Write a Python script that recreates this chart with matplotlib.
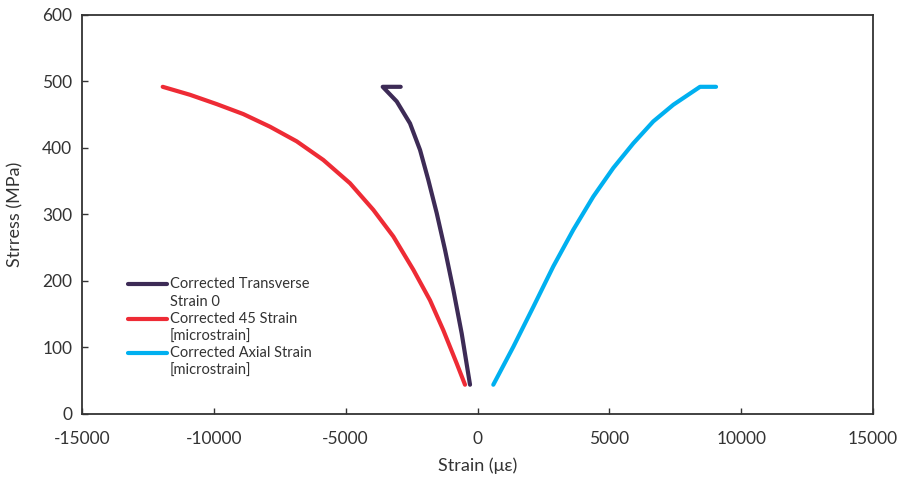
import matplotlib
matplotlib.use('Agg')
import matplotlib.pyplot as plt
from matplotlib.lines import Line2D

plt.rcParams['font.family'] = ['Lato', 'DejaVu Sans']
plt.rcParams['axes.unicode_minus'] = False

# Corrected Transverse Strain 0
transverse_strain = [-284, -599, -918, -1233, -1547, -1866, -2179, -2560, -3064, -3595, -2913]
transverse_stress = [44, 121, 187, 247, 302, 352, 397, 437, 470, 492, 492]

# Corrected 45 Strain [microstrain]
strain_45 = [-474, -789, -1297, -1801, -2435, -3193, -3952, -4836, -5848, -6857, -7870, -8882,
             -9891, -10904, -11939]
stress_45 = [44, 76, 126, 171, 217, 267, 307, 347, 382, 410, 432, 451, 466, 480, 492]

# Corrected Axial Strain [microstrain]
axial_strain = [599, 1358, 2116, 2875, 3633, 4392, 5150, 5909, 6667, 7426, 8439, 9046]
axial_stress = [44, 101, 161, 222, 277, 327, 370, 407, 440, 465, 492, 492]

series_labels = [('Corrected Transverse', 'Strain 0'),
                 ('Corrected 45 Strain', '[microstrain]'),
                 ('Corrected Axial Strain', '[microstrain]')]
series_colors = ['#3D2B56', '#EE2B35', '#00B0F0']

fig = plt.figure(figsize=(9.03, 4.82), dpi=100)
ax = fig.add_axes([0.0908, 0.1411, 0.876, 0.8278])

ax.plot(transverse_strain, transverse_stress, color=series_colors[0], lw=3, solid_capstyle='round')
ax.plot(strain_45, stress_45, color=series_colors[1], lw=3, solid_capstyle='round')
ax.plot(axial_strain, axial_stress, color=series_colors[2], lw=3, solid_capstyle='round')

ax.set_xlim(-15000, 15000)
ax.set_ylim(0, 600)
ax.set_xticks(range(-15000, 15001, 5000))
ax.set_yticks(range(0, 601, 100))
ax.tick_params(direction='in', length=4, width=1, labelsize=12.5, colors='#333333', pad=7)
ax.tick_params(axis='x', pad=12)
for sp in ax.spines.values():
    sp.set_color('#333333')
    sp.set_linewidth(1.3)

ax.set_xlabel('Strain (με)', fontsize=13, color='#333333')
ax.set_ylabel('Strress (MPa)', fontsize=13, color='#333333')
ax.xaxis.set_label_coords(0.5, -0.108)
ax.yaxis.set_label_coords(-0.074, 0.5)

# legend drawn by hand so the line sits next to the first text line (Excel style)
leg_y = [0.326, 0.238, 0.153]
for (line1, line2), color, y in zip(series_labels, series_colors, leg_y):
    ax.add_line(Line2D([0.058, 0.108], [y, y], transform=ax.transAxes,
                       color=color, lw=3, solid_capstyle='round'))
    ax.text(0.111, y, line1, transform=ax.transAxes, fontsize=10.5,
            color='#333333', va='center', ha='left')
    ax.text(0.111, y - 0.045, line2, transform=ax.transAxes, fontsize=10.5,
            color='#333333', va='center', ha='left')

fig.savefig('out.png', dpi=100)
